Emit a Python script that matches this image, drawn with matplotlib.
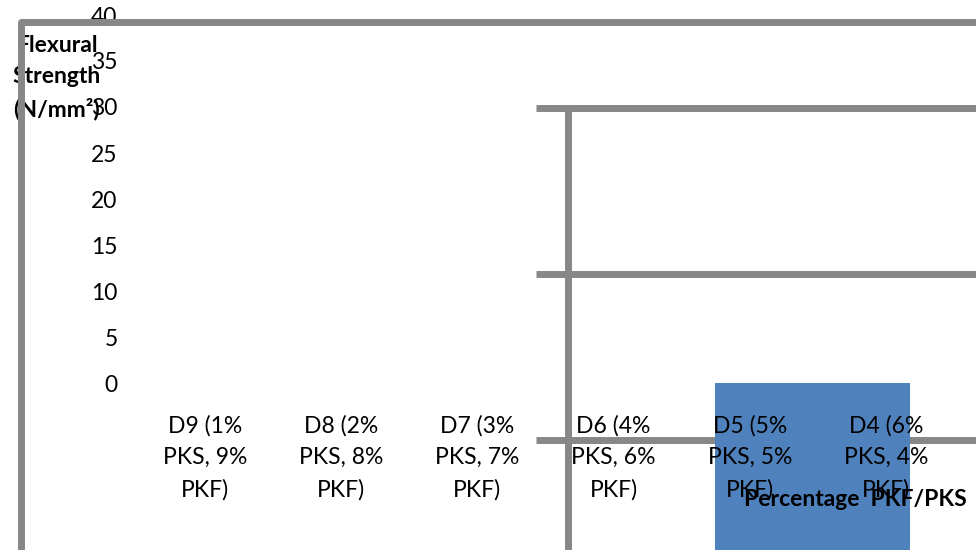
import matplotlib
matplotlib.use("Agg")
import matplotlib.pyplot as plt
from matplotlib.lines import Line2D

plt.rcParams["font.family"] = ["Lato", "DejaVu Sans"]

# mix labels, PKS share then PKF share
categories = ["D9", "D8", "D7", "D6", "D5", "D4"]
pks_pct = [1, 2, 3, 4, 5, 6]
pkf_pct = [9, 8, 7, 6, 5, 4]
y_ticks = [0, 5, 10, 15, 20, 25, 30, 35, 40]

# single stray bar hanging below the zero line
bar_pos = [4.46]
bar_width = 1.43
bar_value = [-20]

GREY = "#878787"
BLUE = "#4f81bd"
W, H = 976, 550
FS = 16.5

labels = [f"{c} ({s}%\nPKS, {f}%\nPKF)" for c, s, f in zip(categories, pks_pct, pkf_pct)]

fig = plt.figure(figsize=(W / 100, H / 100), dpi=100)
ax = fig.add_axes([137 / W, (H - 383) / H, 817 / W, 368 / H])
ax.patch.set_visible(False)
for s in ax.spines.values():
    s.set_visible(False)

ax.set_xlim(-0.5, len(categories) - 0.5)
ax.set_ylim(0, 40)
ax.set_yticks(y_ticks)
ax.set_xticks(range(len(categories)))
ax.set_xticklabels(labels, fontsize=FS, linespacing=1.64)
ax.tick_params(axis="y", length=0, pad=14, labelsize=FS)
ax.tick_params(axis="x", length=0, pad=23)

ax.set_ylabel("Flexural\nStrength\n(N/mm²)", rotation=0, fontsize=FS,
              fontweight="bold", linespacing=1.6, ha="center", va="center")
ax.yaxis.set_label_coords(-0.098, 0.83)
ax.set_xlabel("Percentage  PKF/PKS", fontsize=FS, fontweight="bold")
ax.xaxis.set_label_coords(0.879, -0.287)

ax.bar(bar_pos, bar_value, width=bar_width, color=BLUE, zorder=2, clip_on=False)

# grey frame lines, in figure pixels measured from the top
def frame(xs, ys):
    ax.add_line(Line2D([x / W for x in xs], [1 - y / H for y in ys],
                       transform=fig.transFigure, color=GREY, lw=5.0,
                       solid_capstyle="butt", solid_joinstyle="round",
                       zorder=1, clip_on=False))

frame([21, 21, 990], [560, 22, 22])
frame([536, 990], [108, 108])
frame([536, 990], [274, 274])
frame([536, 990], [440, 440])
frame([568, 568], [108, 560])

ax.yaxis.set_zorder(0.5)
ax.xaxis.set_zorder(3)

fig.savefig("out.png", dpi=100)
